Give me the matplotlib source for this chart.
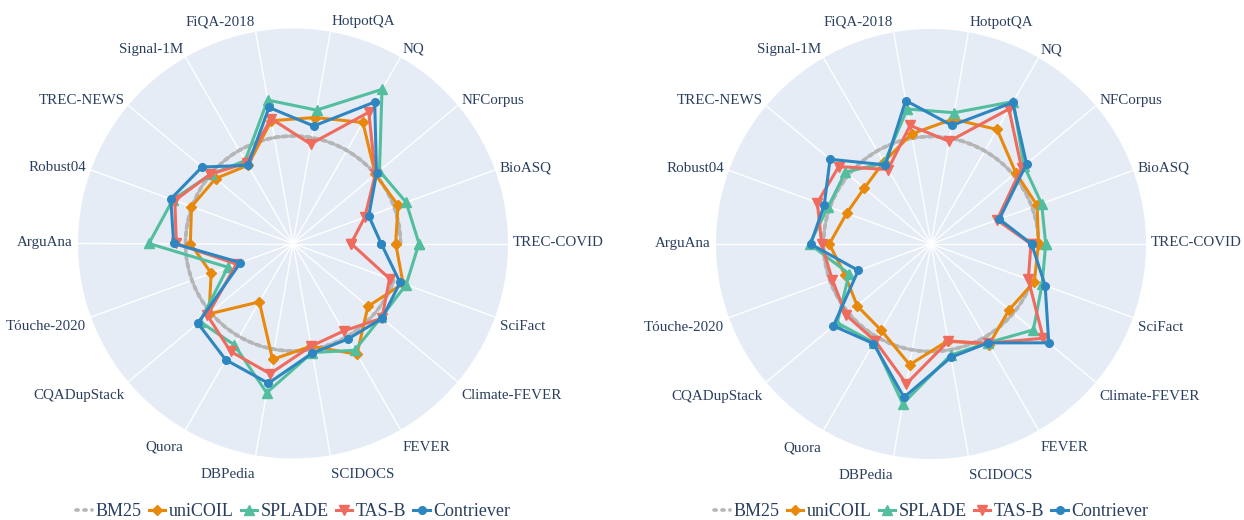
import numpy as np
import matplotlib
matplotlib.use("Agg")
import matplotlib.pyplot as plt
from matplotlib.lines import Line2D

categories = ["TREC-COVID", "BioASQ", "NFCorpus", "NQ", "HotpotQA", "FiQA-2018",
              "Signal-1M", "TREC-NEWS", "Robust04", "ArguAna", "Tóuche-2020",
              "CQADupStack", "Quora", "DBPedia", "SCIDOCS", "FEVER",
              "Climate-FEVER", "SciFact"]

series_names = ["BM25", "uniCOIL", "SPLADE", "TAS-B", "Contriever"]

# Left panel (scores relative to BM25)
left_bm25 = [1.0] * 18
left_unicoil = [0.955, 1.04, 1.0, 1.30, 1.19, 1.16, 0.84, 0.94, 1.005, 0.955,
                0.81, 1.02, 0.627, 1.095, 0.97, 1.19, 0.91, 1.09]
left_splade = [1.172, 1.12, 1.05, 1.656, 1.26, 1.355, 0.89, 1.0, 1.19, 1.34,
               0.645, 1.13, 1.09, 1.41, 1.03, 1.147, 1.07, 1.12]
left_tasb = [0.54, 0.71, 1.0, 1.41, 0.94, 1.18, 0.865, 1.003, 1.17, 1.085,
             0.56, 1.04, 1.16, 1.23, 0.97, 0.94, 1.08, 0.956]
left_contriever = [0.82, 0.75, 1.014, 1.52, 1.11, 1.285, 0.84, 1.106, 1.21, 1.11,
                   0.52, 1.155, 1.25, 1.32, 1.035, 1.025, 1.083, 1.06]

# Right panel
right_bm25 = [1.0] * 18
right_unicoil = [1.0, 1.05, 1.03, 1.23, 1.18, 1.04, 0.88, 0.81, 0.835, 0.946,
                 0.85, 0.896, 0.927, 1.14, 0.913, 1.08, 0.95, 1.023]
right_splade = [1.067, 1.095, 1.13, 1.53, 1.24, 1.275, 0.87, 1.04, 1.017, 1.13,
                0.81, 1.14, 1.06, 1.51, 1.05, 1.06, 1.243, 1.10]
right_tasb = [0.93, 0.654, 1.10, 1.45, 0.97, 1.12, 0.80, 1.12, 1.125, 1.017,
              0.977, 1.03, 1.04, 1.32, 0.92, 1.065, 1.364, 0.963]
right_contriever = [0.936, 0.676, 1.16, 1.52, 1.12, 1.355, 0.85, 1.226, 1.057, 1.12,
                    0.72, 1.185, 1.07, 1.448, 1.07, 1.062, 1.43, 1.13]

colors = {"BM25": "#b5b5b5", "uniCOIL": "#e8890c", "SPLADE": "#52be9e",
          "TAS-B": "#ee6b5e", "Contriever": "#2e86c1"}
markers = {"BM25": None, "uniCOIL": "D", "SPLADE": "^", "TAS-B": "v", "Contriever": "o"}
msizes = {"BM25": 0, "uniCOIL": 5, "SPLADE": 6.5, "TAS-B": 6.5, "Contriever": 5.5}

TEXT = "#2a3f5f"
BG = "#e5ecf6"
SERIF = ["Liberation Serif", "DejaVu Serif"]

W, H = 1244, 520
fig = plt.figure(figsize=(W / 100, H / 100), dpi=100)

R = 215
panels = [
    ((293, 243.5), [left_bm25, left_unicoil, left_splade, left_tasb, left_contriever]),
    ((931, 244), [right_bm25, right_unicoil, right_splade, right_tasb, right_contriever]),
]

n = len(categories)
theta = np.deg2rad(np.arange(n) * 360.0 / n)
theta_c = np.append(theta, theta[0])

for (cx, cy), data in panels:
    ax = fig.add_axes([(cx - R) / W, (H - cy - R) / H, 2 * R / W, 2 * R / H],
                      projection="polar")
    ax.set_facecolor(BG)
    ax.set_ylim(0, 2.0)
    ax.set_yticks([])
    ax.set_xticks(theta)
    ax.set_xticklabels([])
    ax.xaxis.grid(True, color="white", linewidth=1.0)
    ax.yaxis.grid(False)
    ax.spines["polar"].set_visible(False)
    ax.tick_params(axis="x", length=0)

    for name, vals in zip(series_names, data):
        v = np.append(vals, vals[0])
        if name == "BM25":
            ln, = ax.plot(theta_c, v, color=colors[name], linewidth=2.6,
                          linestyle=(0, (0.6, 1.6)), dash_capstyle="round", zorder=2)
            ln.get_path()._interpolation_steps = 40
        else:
            ax.plot(theta_c, v, color=colors[name], linewidth=2.2,
                    marker=markers[name], markersize=msizes[name], zorder=3,
                    clip_on=False)

    for t, lab in zip(theta, categories):
        c, s = np.cos(t), np.sin(t)
        if c > 0.05:
            ha = "left"
        elif c < -0.05:
            ha = "right"
        else:
            ha = "center"
        pad = 5
        dx = c * pad
        if s >= 0:
            dy = 1 + 9.5 * s * s
        else:
            dy = -(4.5 + 15 * abs(s))
        ax.annotate(lab, xy=(t, 2.0), xytext=(dx * 0.72, dy * 0.72),
                    textcoords="offset points", ha=ha, va="center",
                    fontsize=10.8, color=TEXT, family=SERIF,
                    annotation_clip=False)

    handles = []
    for name in series_names:
        if name == "BM25":
            h = Line2D([], [], color=colors[name], linewidth=2.6,
                       linestyle=(0, (0.6, 1.6)), dash_capstyle="round")
        else:
            h = Line2D([], [], color=colors[name], linewidth=2.2,
                       marker=markers[name], markersize=msizes[name])
        handles.append(h)
    fig.legend(handles, series_names, loc="center",
               bbox_to_anchor=(cx / W, 1 - 512 / H), ncol=5, frameon=False,
               prop={"family": SERIF, "size": 13}, labelcolor=TEXT,
               handlelength=0.9, handletextpad=0.2, columnspacing=0.4,
               borderaxespad=0)

fig.savefig("out.png", dpi=100, facecolor="white")
